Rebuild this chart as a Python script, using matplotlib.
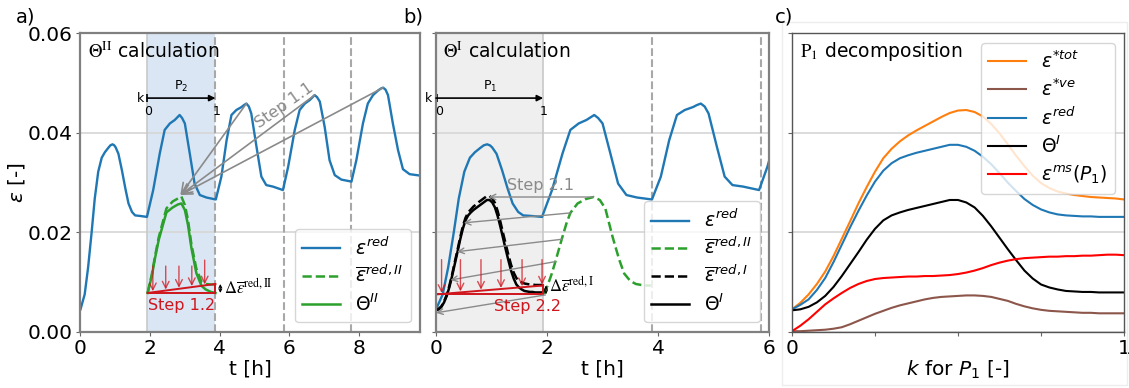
import numpy as np
import matplotlib.pyplot as plt
from matplotlib.patches import Rectangle

# ---- data ----
# eps_red over time (panels a and b)
t_red = [0.00, 0.12, 0.22, 0.32, 0.41, 0.51, 0.61, 0.70, 0.80, 0.86, 0.92, 0.97, 1.01, 1.09, 1.19, 1.29, 1.38, 1.48, 1.57, 1.70, 1.91,
         2.09, 2.28, 2.42, 2.57, 2.71, 2.78, 2.85, 2.92, 3.00, 3.14, 3.28, 3.43, 3.62, 3.89,
         4.05, 4.20, 4.34, 4.48, 4.63, 4.70, 4.77, 4.84, 4.91, 5.06, 5.20, 5.34, 5.53, 5.82,
         5.97, 6.16, 6.30, 6.45, 6.59, 6.66, 6.73, 6.80, 6.88, 7.02, 7.16, 7.31, 7.50, 7.79,
         7.93, 8.12, 8.26, 8.41, 8.55, 8.63, 8.70, 8.77, 8.84, 8.98, 9.13, 9.27, 9.46, 9.77]
eps_red = [0.0045, 0.0075, 0.0130, 0.0200, 0.0268, 0.0322, 0.0350, 0.0361, 0.0370, 0.0375, 0.0377, 0.0375, 0.0371, 0.0358, 0.0325, 0.0288, 0.0258, 0.0241, 0.0234, 0.0233, 0.0231,
           0.0285, 0.0359, 0.0406, 0.0419, 0.0426, 0.0431, 0.0436, 0.0430, 0.0419, 0.0359, 0.0298, 0.0275, 0.0270, 0.0266,
           0.0312, 0.0385, 0.0436, 0.0446, 0.0452, 0.0456, 0.0459, 0.0453, 0.0439, 0.0372, 0.0312, 0.0295, 0.0292, 0.0285,
           0.0332, 0.0406, 0.0446, 0.0459, 0.0466, 0.0471, 0.0476, 0.0472, 0.0463, 0.0412, 0.0345, 0.0315, 0.0306, 0.0302,
           0.0345, 0.0419, 0.0459, 0.0476, 0.0485, 0.0489, 0.0491, 0.0487, 0.0476, 0.0419, 0.0365, 0.0327, 0.0317, 0.0314]

# panel a: second period
t_p2 = [1.93, 2.05, 2.14, 2.25, 2.33, 2.47, 2.65, 2.80, 2.90, 3.00, 3.09, 3.19, 3.33, 3.48, 3.60, 3.75, 3.88]
eps_bar_II_a = [0.0078, 0.0115, 0.0151, 0.0190, 0.0211, 0.0248, 0.0262, 0.0268, 0.0272, 0.0255, 0.0225, 0.0175, 0.0127, 0.0100, 0.0096, 0.0095, 0.0095]
theta_II = [0.0078, 0.0112, 0.0147, 0.0185, 0.0205, 0.0240, 0.0250, 0.0256, 0.0258, 0.0245, 0.0215, 0.0168, 0.0118, 0.0092, 0.0085, 0.0080, 0.0078]

# panel b: eps_bar_red_II shown in second period
t_p2b = [1.93, 2.00, 2.08, 2.15, 2.27, 2.35, 2.42, 2.55, 2.70, 2.84, 2.95, 3.05, 3.18, 3.30, 3.39, 3.50, 3.60, 3.75, 3.87]
eps_bar_II_b = [0.0076, 0.0090, 0.0115, 0.0141, 0.0188, 0.0218, 0.0239, 0.0258, 0.0267, 0.0271, 0.0265, 0.0248, 0.0191, 0.0145, 0.0117, 0.0102, 0.0096, 0.0093, 0.0093]

# panel c: decomposition over k (first period P1)
P1 = 1.93
k = [0.000, 0.025, 0.050, 0.075, 0.100, 0.125, 0.150, 0.175, 0.200, 0.225, 0.250,
     0.275, 0.300, 0.325, 0.350, 0.375, 0.400, 0.425, 0.450, 0.475, 0.500,
     0.525, 0.550, 0.575, 0.600, 0.625, 0.650, 0.675, 0.700, 0.725, 0.750,
     0.775, 0.800, 0.825, 0.850, 0.875, 0.900, 0.925, 0.950, 0.975, 1.000]
eps_tot = [0.0045, 0.0058, 0.0075, 0.0096, 0.0121, 0.0152, 0.0187, 0.0222, 0.0258, 0.0291, 0.0322,
           0.0349, 0.0368, 0.0383, 0.0395, 0.0405, 0.0414, 0.0423, 0.0432, 0.0440, 0.0445,
           0.0446, 0.0442, 0.0433, 0.0418, 0.0399, 0.0377, 0.0354, 0.0333, 0.0314, 0.0299,
           0.0289, 0.0282, 0.0278, 0.0275, 0.0273, 0.0271, 0.0270, 0.0269, 0.0268, 0.0266]
eps_ve = [0.0001, 0.0001, 0.0002, 0.0003, 0.0004, 0.0006, 0.0009, 0.0015, 0.0022, 0.0029, 0.0036,
          0.0042, 0.0048, 0.0053, 0.0057, 0.0061, 0.0065, 0.0068, 0.0070, 0.0071, 0.0072,
          0.0073, 0.0073, 0.0072, 0.0070, 0.0066, 0.0062, 0.0056, 0.0051, 0.0047, 0.0044,
          0.0042, 0.0041, 0.0040, 0.0039, 0.0038, 0.0038, 0.0037, 0.0037, 0.0037, 0.0037]
eps_red_k = [0.0045, 0.0054, 0.0065, 0.0084, 0.0108, 0.0140, 0.0175, 0.0210, 0.0243, 0.0274, 0.0302,
             0.0324, 0.0339, 0.0349, 0.0355, 0.0360, 0.0364, 0.0368, 0.0372, 0.0376, 0.0376,
             0.0372, 0.0364, 0.0352, 0.0337, 0.0319, 0.0300, 0.0283, 0.0267, 0.0255, 0.0246,
             0.0240, 0.0236, 0.0234, 0.0233, 0.0232, 0.0232, 0.0231, 0.0231, 0.0231, 0.0231]
theta_I = [0.0043, 0.0045, 0.0050, 0.0059, 0.0072, 0.0090, 0.0112, 0.0136, 0.0160, 0.0185, 0.0207,
           0.0224, 0.0234, 0.0240, 0.0245, 0.0249, 0.0253, 0.0257, 0.0261, 0.0265, 0.0265,
           0.0260, 0.0250, 0.0233, 0.0212, 0.0189, 0.0166, 0.0144, 0.0123, 0.0107, 0.0095,
           0.0089, 0.0085, 0.0082, 0.0081, 0.0080, 0.0080, 0.0079, 0.0079, 0.0079, 0.0079]
eps_ms = [0.0001, 0.0012, 0.0025, 0.0040, 0.0055, 0.0067, 0.0078, 0.0088, 0.0096, 0.0102, 0.0106,
          0.0108, 0.0109, 0.0110, 0.0111, 0.0111, 0.0112, 0.0112, 0.0113, 0.0114, 0.0116,
          0.0119, 0.0123, 0.0128, 0.0134, 0.0139, 0.0143, 0.0146, 0.0148, 0.0149, 0.0150,
          0.0151, 0.0151, 0.0152, 0.0152, 0.0153, 0.0153, 0.0154, 0.0155, 0.0155, 0.0154]
eps_bar_I = [0.0043, 0.0046, 0.0051, 0.0061, 0.0074, 0.0093, 0.0115, 0.0140, 0.0164, 0.0189, 0.0212,
             0.0229, 0.0240, 0.0246, 0.0252, 0.0256, 0.0261, 0.0265, 0.0269, 0.0273, 0.0273,
             0.0268, 0.0259, 0.0243, 0.0222, 0.0199, 0.0177, 0.0155, 0.0135, 0.0119, 0.0108,
             0.0102, 0.0099, 0.0097, 0.0096, 0.0095, 0.0095, 0.0094, 0.0094, 0.0094, 0.0094]

# annotations
peaks_a = [(4.77, 0.0459), (6.73, 0.0476), (8.70, 0.0491)]
target_a = (2.87, 0.0275)
red_arrows_a = [2.08, 2.45, 2.83, 3.20, 3.57]
red_arrows_b = [0.10, 0.44, 0.81, 1.17, 1.55, 1.91]
shift_from_b = [(2.84, 0.0271), (2.42, 0.0239), (2.27, 0.0186), (2.15, 0.0141), (1.97, 0.0074)]
shift_to_b = [(0.95, 0.0271), (0.50, 0.0219), (0.38, 0.0161), (0.26, 0.0104), (0.0, 0.0038)]
base_a, top_a = 0.0078, 0.0096
base_b, top_b = 0.0075, 0.0093

BLUE, GREEN, ORANGE, BROWN = '#1f77b4', '#2ca02c', '#ff7f0e', '#8c564b'
RED = '#d0151d'
GREY = '#8a8a8a'

plt.rcParams['font.family'] = 'DejaVu Sans'
plt.rcParams['font.size'] = 14.5
plt.rcParams['legend.fontsize'] = 13.5
plt.rcParams['axes.labelpad'] = 0.5

fig = plt.figure(figsize=(11.29, 3.88), dpi=100)
ax1 = fig.add_axes([0.0713, 0.1451, 0.3007, 0.7686])
ax2 = fig.add_axes([0.3862, 0.1451, 0.2950, 0.7686])
ax3 = fig.add_axes([0.7015, 0.1451, 0.2941, 0.7686])

for ax in (ax1, ax2, ax3):
    ax.set_ylim(0, 0.06)
    ax.set_yticks([0, 0.02, 0.04, 0.06])
    ax.grid(axis='y', color='#d6d6d6', lw=1.2, zorder=0.5)
    ax.set_axisbelow(True)
    ax.tick_params(direction='out', length=3, pad=2.5, color='#666666')
for ax in (ax1, ax2):
    for s in ax.spines.values():
        s.set_color('#808080')
        s.set_linewidth(1.6)
for s in ax3.spines.values():
    s.set_color('#555555')
    s.set_linewidth(1.0)

leg_kw = dict(handlelength=2.0, labelspacing=0.35)

# ---------------- panel a ----------------
ax1.axvspan(1.92, 3.88, color='#dae6f3', zorder=0, lw=0)
ax1.axvline(1.92, color='#c8c8c8', lw=1.2, zorder=0.6)
for x in [3.88, 5.84, 7.79]:
    ax1.axvline(x, color='#a8a8a8', ls='--', lw=1.5, zorder=0.6)
l1, = ax1.plot(t_red, eps_red, color=BLUE, lw=1.7, label=r'$\varepsilon^{red}$')
l2, = ax1.plot(t_p2, eps_bar_II_a, color=GREEN, ls='--', lw=1.8, label=r'$\overline{\varepsilon}^{red,II}$')
l3, = ax1.plot(t_p2, theta_II, color=GREEN, lw=1.8, label=r'$\Theta^{II}$')

ax1.plot([1.93, 3.88], [base_a, base_a], color=RED, lw=1.4)
ax1.plot([1.93, 3.88], [base_a, top_a], color=RED, lw=1.4)
ax1.plot([3.88, 3.88], [base_a, top_a], color=RED, lw=1.4)
for x in red_arrows_a:
    yb = base_a + (top_a - base_a) * (x - 1.93) / (3.88 - 1.93)
    ax1.annotate('', xy=(x, yb + 0.0002), xytext=(x, 0.0132 + (0.0012 if x > 3.5 else 0)),
                 arrowprops=dict(arrowstyle='->', color=RED, lw=1.0, alpha=0.75,
                                 mutation_scale=12, shrinkA=0, shrinkB=0))
ax1.text(2.9, 0.0053, 'Step 1.2', color=RED, fontsize=11.5, ha='center', va='center')
ax1.annotate('', xy=(4.02, top_a), xytext=(4.02, base_a),
             arrowprops=dict(arrowstyle='<->', color='k', lw=0.8, mutation_scale=5, shrinkA=0, shrinkB=0))
ax1.text(4.12, 0.0088, r'$\Delta\overline{\varepsilon}^{\mathrm{red,II}}$', fontsize=12,
         math_fontfamily='stix', ha='left', va='center')

for p in peaks_a:
    ax1.annotate('', xy=target_a, xytext=p,
                 arrowprops=dict(arrowstyle='->', color=GREY, lw=1.2, mutation_scale=18,
                                 shrinkA=0, shrinkB=0))
ax1.text(5.85, 0.0455, 'Step 1.1', color=GREY, fontsize=11.5, rotation=35,
         ha='center', va='center')

ax1.annotate('', xy=(3.88, 0.047), xytext=(1.92, 0.047),
             arrowprops=dict(arrowstyle='-|>', color='k', lw=1.2, mutation_scale=9, shrinkA=0, shrinkB=0))
ax1.plot([1.92], [0.047], marker='|', ms=6, color='k', mew=1.2)
ax1.text(1.84, 0.047, 'k', fontsize=9, ha='right', va='center')
ax1.text(1.95, 0.0457, '0', fontsize=9, ha='center', va='top')
ax1.text(3.91, 0.0457, '1', fontsize=9, ha='center', va='top')
ax1.text(2.9, 0.0478, 'P$_2$', fontsize=9, ha='center', va='bottom')

ax1.text(0.022, 0.94, r'$\Theta^{\mathrm{II}}$ calculation', transform=ax1.transAxes,
         fontsize=13.5, math_fontfamily='stix', ha='left', va='center')
ax1.set_xlim(0, 9.76)
ax1.set_xticks([0, 2, 4, 6, 8])
ax1.set_yticklabels(['0.00', '0.02', '0.04', '0.06'])
ax1.set_xlabel('t [h]')
ax1.set_ylabel(r'$\varepsilon$ [-]')
ax1.legend(handles=[l1, l2, l3], loc='lower right', **leg_kw)

# ---------------- panel b ----------------
ax2.axvspan(0, 1.93, color='#efefef', zorder=0, lw=0)
ax2.axvline(1.93, color='#c8c8c8', lw=1.2, zorder=0.6)
for x in [3.89, 5.85]:
    ax2.axvline(x, color='#a8a8a8', ls='--', lw=1.5, zorder=0.6)
t_k = [v * P1 for v in k]
m1, = ax2.plot(t_red, eps_red, color=BLUE, lw=1.7, label=r'$\varepsilon^{red}$')
m2, = ax2.plot(t_p2b, eps_bar_II_b, color=GREEN, ls='--', lw=1.8, label=r'$\overline{\varepsilon}^{red,II}$')
m3, = ax2.plot(t_k, eps_bar_I, color='k', ls='--', lw=1.8, label=r'$\overline{\varepsilon}^{red,I}$')
m4, = ax2.plot(t_k, theta_I, color='k', lw=1.8, label=r'$\Theta^{I}$')

for a, b in zip(shift_from_b, shift_to_b):
    ax2.annotate('', xy=b, xytext=a,
                 arrowprops=dict(arrowstyle='->', color=GREY, lw=1.0, mutation_scale=10,
                                 shrinkA=0, shrinkB=0))
ax2.text(1.88, 0.0295, 'Step 2.1', color=GREY, fontsize=11.5, ha='center', va='center')

ax2.plot([0, 1.93], [base_b, base_b], color=RED, lw=1.4)
ax2.plot([0, 1.93], [base_b, top_b], color=RED, lw=1.4)
ax2.plot([1.93, 1.93], [base_b, top_b], color=RED, lw=1.4)
for x in red_arrows_b:
    yb = base_b + (top_b - base_b) * x / 1.93
    ax2.annotate('', xy=(x, yb + 0.0002), xytext=(x, 0.0145),
                 arrowprops=dict(arrowstyle='->', color=RED, lw=1.0, alpha=0.75,
                                 mutation_scale=12, shrinkA=0, shrinkB=0))
ax2.text(1.64, 0.0050, 'Step 2.2', color=RED, fontsize=11.5, ha='center', va='center')
ax2.annotate('', xy=(1.98, top_b), xytext=(1.98, base_b),
             arrowprops=dict(arrowstyle='<->', color='k', lw=0.8, mutation_scale=5, shrinkA=0, shrinkB=0))
ax2.text(2.03, 0.0093, r'$\Delta\overline{\varepsilon}^{\mathrm{red,I}}$', fontsize=12,
         math_fontfamily='stix', ha='left', va='center')

ax2.annotate('', xy=(1.93, 0.047), xytext=(0, 0.047),
             arrowprops=dict(arrowstyle='-|>', color='k', lw=1.2, mutation_scale=9, shrinkA=0, shrinkB=0))
ax2.plot([0.01], [0.047], marker='|', ms=6, color='k', mew=1.2, clip_on=False)
ax2.text(-0.07, 0.047, 'k', fontsize=9, ha='right', va='center')
ax2.text(0.06, 0.0457, '0', fontsize=9, ha='center', va='top')
ax2.text(1.93, 0.0457, '1', fontsize=9, ha='center', va='top')
ax2.text(0.97, 0.0478, 'P$_1$', fontsize=9, ha='center', va='bottom')

ax2.text(0.02, 0.94, r'$\Theta^{\mathrm{I}}$ calculation', transform=ax2.transAxes,
         fontsize=13.5, math_fontfamily='stix', ha='left', va='center')
ax2.set_xlim(0, 6)
ax2.set_xticks([0, 2, 4, 6])
ax2.set_yticklabels([])
ax2.set_xlabel('t [h]')
ax2.legend(handles=[m1, m2, m3, m4], loc='lower right', **leg_kw)

# ---------------- panel c ----------------
n1, = ax3.plot(k, eps_tot, color=ORANGE, lw=1.5, label=r'$\varepsilon^{*tot}$')
n2, = ax3.plot(k, eps_ve, color=BROWN, lw=1.5, label=r'$\varepsilon^{*ve}$')
n3, = ax3.plot(k, eps_red_k, color=BLUE, lw=1.5, label=r'$\varepsilon^{red}$')
n4, = ax3.plot(k, theta_I, color='k', lw=1.5, label=r'$\Theta^{I}$')
n5, = ax3.plot(k, eps_ms, color='red', lw=1.5, label=r'$\varepsilon^{ms}(P_1)$')
ax3.set_xlim(0, 1)
ax3.set_xticks([0, 0.25, 0.5, 0.75, 1])
ax3.set_xticklabels(['0', '', '', '', '1'])
ax3.set_yticklabels([])
ax3.set_xlabel(r'$k$ for $P_1$ [-]')
ax3.text(0.024, 0.94, r'$\mathrm{P}_1$ decomposition', transform=ax3.transAxes,
         fontsize=13.5, math_fontfamily='stix', ha='left', va='center')
ax3.legend(handles=[n1, n2, n3, n4, n5], loc='upper right', **leg_kw)

fig.add_artist(Rectangle((0.6927, 0.008), 0.3056, 0.935, transform=fig.transFigure,
                         fill=False, ec='#ededed', lw=1))

fig.text(0.014, 0.956, 'a)', fontsize=14, va='center', ha='left')
fig.text(0.357, 0.956, 'b)', fontsize=14, va='center', ha='left')
fig.text(0.686, 0.956, 'c)', fontsize=14, va='center', ha='left')

fig.savefig('out.png', dpi=100)
